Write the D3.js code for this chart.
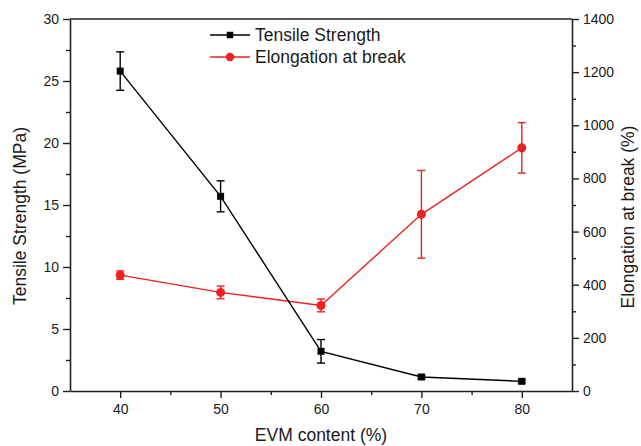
<!DOCTYPE html>
<html>
<head>
<meta charset="utf-8">
<script src="https://cdn.jsdelivr.net/npm/d3@7"></script>
<style>
  body { margin: 0; background: #fff; }
  svg text { font-family: "Liberation Sans", Arial, sans-serif; fill: #1a1a1a; }
</style>
</head>
<body>
<div id="chart"></div>
<script>
// EVM content vs tensile strength / elongation (dual y axis)
const evm = [40, 50, 60, 70, 80];
const tensile = [25.8, 15.7, 3.2, 1.13, 0.78];
const tensileErr = [1.55, 1.25, 0.95, 0.15, 0.15];
const elong = [436, 371, 322, 665, 915];
const elongErr = [16, 24, 24, 165, 95];
const xTicks = [40, 50, 60, 70, 80];
const yLeftTicks = [0, 5, 10, 15, 20, 25, 30];
const yRightTicks = [0, 200, 400, 600, 800, 1000, 1200, 1400];

const W = 641, H = 446;
const margin = {top: 19, right: 69, bottom: 55, left: 70},
    width = W - margin.left - margin.right,
    height = H - margin.top - margin.bottom;

const svg = d3.select("#chart")
  .append("svg")
    .attr("width", W)
    .attr("height", H)
  .append("g")
    .attr("transform", "translate(" + margin.left + "," + margin.top + ")");

const x = d3.scaleLinear().domain([35, 85]).range([0, width]);
const yL = d3.scaleLinear().domain([0, 30]).range([height, 0]);
const yR = d3.scaleLinear().domain([0, 1400]).range([height, 0]);

const axisColor = "#222";

// minor ticks first
svg.append("g")
  .attr("transform", "translate(0," + height + ")")
  .call(d3.axisBottom(x).tickValues([45, 55, 65, 75]).tickSize(4).tickFormat(""))
  .call(g => g.select(".domain").remove());
svg.append("g")
  .call(d3.axisLeft(yL).tickValues(d3.range(2.5, 30, 5)).tickSize(4).tickFormat(""))
  .call(g => g.select(".domain").remove());
svg.append("g")
  .attr("transform", "translate(" + width + ",0)")
  .call(d3.axisRight(yR).tickValues(d3.range(100, 1400, 200)).tickSize(4).tickFormat(""))
  .call(g => g.select(".domain").remove());

// major axes
svg.append("g")
  .attr("transform", "translate(0," + height + ")")
  .call(d3.axisBottom(x).tickValues(xTicks).tickSize(7).tickPadding(6).tickSizeOuter(0));
svg.append("g")
  .call(d3.axisLeft(yL).tickValues(yLeftTicks).tickSize(7).tickPadding(4).tickSizeOuter(0));
svg.append("g")
  .attr("transform", "translate(" + width + ",0)")
  .call(d3.axisRight(yR).tickValues(yRightTicks).tickFormat(d3.format("d"))
    .tickSize(7).tickPadding(4).tickSizeOuter(0));

// top frame line
svg.append("line")
  .attr("x1", 0).attr("x2", width).attr("y1", 0).attr("y2", 0)
  .attr("stroke", axisColor).attr("stroke-width", 1.6);

svg.selectAll(".domain").attr("stroke", axisColor).attr("stroke-width", 1.6);
svg.selectAll(".tick line").attr("stroke", axisColor).attr("stroke-width", 1.4);
svg.selectAll(".tick text").style("font-size", "14px");

// axis titles
svg.append("text")
  .attr("x", width / 2).attr("y", height + 50)
  .attr("text-anchor", "middle").style("font-size", "17.5px")
  .text("EVM content (%)");
svg.append("text")
  .attr("transform", "translate(-44," + (height / 2 + 11) + ") rotate(-90)")
  .attr("text-anchor", "middle").style("font-size", "17.5px")
  .text("Tensile Strength (MPa)");
svg.append("text")
  .attr("transform", "translate(" + (width + 62) + "," + (height / 2 + 12) + ") rotate(-90)")
  .attr("text-anchor", "middle").style("font-size", "17.5px")
  .text("Elongation at break (%)");

// series drawing helper
function drawSeries(vals, errs, y, color, shape) {
  const pts = evm.map((e, i) => ({x: e, y: vals[i], err: errs[i]}));
  svg.append("path")
    .datum(pts)
    .attr("fill", "none")
    .attr("stroke", color)
    .attr("stroke-width", 1.4)
    .attr("d", d3.line().x(d => x(d.x)).y(d => y(d.y)));

  const eb = svg.append("g").selectAll("g").data(pts).enter().append("g")
    .attr("stroke", color).attr("stroke-width", 1.4);
  eb.append("line")
    .attr("x1", d => x(d.x)).attr("x2", d => x(d.x))
    .attr("y1", d => y(d.y - d.err)).attr("y2", d => y(d.y + d.err));
  eb.append("line")
    .attr("x1", d => x(d.x) - 4).attr("x2", d => x(d.x) + 4)
    .attr("y1", d => y(d.y - d.err)).attr("y2", d => y(d.y - d.err));
  eb.append("line")
    .attr("x1", d => x(d.x) - 4).attr("x2", d => x(d.x) + 4)
    .attr("y1", d => y(d.y + d.err)).attr("y2", d => y(d.y + d.err));

  svg.append("g").selectAll("path").data(pts).enter().append("path")
    .attr("transform", d => "translate(" + x(d.x) + "," + y(d.y) + ")")
    .attr("d", d3.symbol().type(shape).size(shape === d3.symbolSquare ? 49 : 64))
    .attr("fill", color);
}

drawSeries(elong, elongErr, yR, "#f02020", d3.symbolCircle);
drawSeries(tensile, tensileErr, yL, "#000", d3.symbolSquare);

// legend
const legend = [
  {label: "Tensile Strength", color: "#000", shape: d3.symbolSquare},
  {label: "Elongation at break", color: "#f02020", shape: d3.symbolCircle}
];
const lg = svg.append("g").attr("transform", "translate(140,16)");
legend.forEach((l, i) => {
  const g = lg.append("g").attr("transform", "translate(0," + i * 22 + ")");
  g.append("line").attr("x1", 0).attr("x2", 40).attr("y1", 0).attr("y2", 0)
    .attr("stroke", l.color).attr("stroke-width", 1.4);
  g.append("path").attr("transform", "translate(20,0)")
    .attr("d", d3.symbol().type(l.shape).size(l.shape === d3.symbolSquare ? 42 : 56))
    .attr("fill", l.color);
  g.append("text").attr("x", 45).attr("y", 6)
    .style("font-size", "17.5px").text(l.label);
});
</script>
</body>
</html>
